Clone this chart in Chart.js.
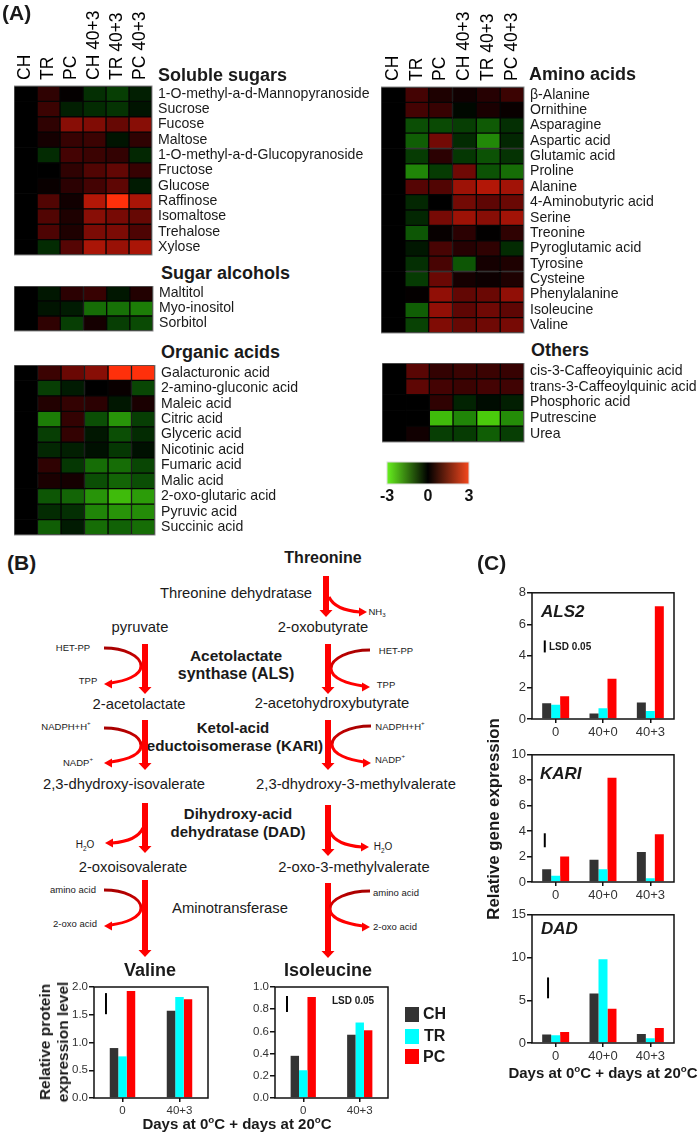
<!DOCTYPE html>
<html>
<head>
<meta charset="utf-8">
<style>
  html, body { margin: 0; padding: 0; background: #fff; }
  #page { position: relative; width: 700px; height: 1133px; overflow: hidden; font-family: "Liberation Sans", Arial, sans-serif; color: #1a1a1a; }
  #page canvas { position: absolute; }
  #page svg { position: absolute; left: 0; top: 0; z-index: 2; }
  .t { position: absolute; white-space: nowrap; transform: translate(-50%, -50%); }
  .l { position: absolute; white-space: nowrap; transform: translateY(-50%); }
  .r { position: absolute; white-space: nowrap; transform: translate(-50%, -50%) rotate(-90deg); font-weight: bold; text-align: center; }
  sup, sub { font-size: 65%; line-height: 0; }
</style>
</head>
<body>
<div id="page"></div>
<script src="https://cdn.jsdelivr.net/npm/chart.js@4/dist/chart.umd.js"></script>
<script>
// heatmap columns
const columns = ["CH", "TR", "PC", "CH 40+3", "TR 40+3", "PC 40+3"];

const sugarRows = ["1-O-methyl-a-d-Mannopyranoside", "Sucrose", "Fucose", "Maltose", "1-O-methyl-a-d-Glucopyranoside", "Fructose", "Glucose", "Raffinose", "Isomaltose", "Trehalose", "Xylose"];
const sugarValues = [
    [0, 0.55, 0.05, -0.6, -0.8, -0.4],
    [0, 0.7, -0.4, -0.55, -0.65, -0.25],
    [0, 0.55, 1.6, 1.5, 1.2, 1.6],
    [0, 0.25, 0.65, 0.7, -0.25, 0.55],
    [0, -0.55, 0.8, 0.7, 0.6, -0.5],
    [0, 0, 0.55, 0.95, 1.15, 0.65],
    [0, 0.1, 0.5, 0.8, 1.1, -0.35],
    [0, 0.95, 0.2, 2.1, 3, 2.0],
    [0, 0.95, 0.35, 1.6, 1.4, 1.2],
    [0, 0.9, 0.35, 1.45, 1.45, 0.9],
    [0, -0.55, 1.0, 2.0, 1.8, 2.0],
];

const alcoholRows = ["Maltitol", "Myo-inositol", "Sorbitol"];
const alcoholValues = [
    [0, -0.3, 0.5, 0.65, -0.3, 0.4],
    [0, -0.25, -0.35, -1.4, -1.45, -1.6],
    [0, 0.55, -0.8, 0.25, -0.8, -0.95],
];

const organicRows = ["Galacturonic acid", "2-amino-gluconic acid", "Maleic acid", "Citric acid", "Glyceric acid", "Nicotinic acid", "Fumaric acid", "Malic acid", "2-oxo-glutaric acid", "Pyruvic acid", "Succinic acid"];
const organicValues = [
    [0, 0.7, 1.25, 1.6, 3, 3],
    [0, -0.8, -0.35, 0, 0.1, -0.9],
    [0, 0.4, 0.6, 0.5, -0.3, 0.3],
    [0, -1.6, 0.6, -1, -1.9, -0.8],
    [0, -0.8, 0.6, -0.3, -1, -0.55],
    [0, -0.5, -0.4, -0.2, -0.7, -0.2],
    [0, 0.55, -0.7, -1.4, -1.4, -0.9],
    [0, 0.3, 0.25, -1.0, -1.3, -1],
    [0, -1.1, -1.3, -1.9, -2.4, -2],
    [0, -0.55, -0.6, -1.7, -1.9, -1.8],
    [0, -1.2, -0.35, -1.4, -1.25, -1.4],
];

const aminoRows = ["β-Alanine", "Ornithine", "Asparagine", "Aspartic acid", "Glutamic acid", "Proline", "Alanine", "4-Aminobutyric acid", "Serine", "Treonine", "Pyroglutamic acid", "Tyrosine", "Cysteine", "Phenylalanine", "Isoleucine", "Valine"];
const aminoValues = [
    [0, 0.8, 0.35, 0.2, 0.45, 0.7],
    [0, 0.8, 0.65, -0.1, 0.3, 0.1],
    [0, -1, -0.95, -0.8, -1.15, -0.6],
    [0, -1.2, 1.35, -0.55, -1.75, -0.5],
    [0, -0.75, 0.5, -0.7, -1.05, -0.65],
    [0, -1.7, -0.75, 1.3, -1.05, -1.4],
    [0, 1.0, 0.95, 1.85, 2.1, 1.9],
    [0, -0.5, 0, 1.35, 1.1, 1.25],
    [0, -0.5, 1.4, 1.85, 1.6, 1.9],
    [0, -1.1, 0.08, 0.5, 0.02, 0.55],
    [0, -0.3, 0.85, 0.45, 0.55, -0.55],
    [0, -0.6, 0.85, -1.1, 0.25, 0.35],
    [0, -0.75, 1.25, 0.25, 0.15, 0.35],
    [0, 0.05, 1.7, 1.15, 1.25, 1.7],
    [0, -1.2, 1.7, 1.1, 1.3, 1.1],
    [0, -0.85, 1.5, 1.2, 1.3, 1.4],
];

const otherRows = ["cis-3-Caffeoyiquinic acid", "trans-3-Caffeoylquinic acid", "Phosphoric acid", "Putrescine", "Urea"];
const otherValues = [
    [0, 1.05, 0.6, 0.7, 0.7, 0.65],
    [0, 1.1, 0.8, 0.7, 0.8, 0.75],
    [0, 0, 0.55, -0.45, -0.15, -0.4],
    [0, 0, -2.4, -1.7, -2.6, -1.8],
    [0, 0.2, -0.8, -0.75, -1.2, -0.8],
];

const scaleTicks = [-3, 0, 3];

// bar panels
const genotypes = ["CH", "TR", "PC"];
const genotypeColors = ["#333333", "#00ffff", "#ff0000"];

const proteinDays = ["0", "40+3"];
const valineCH = [0.9, 1.57];
const valineTR = [0.75, 1.82];
const valinePC = [1.93, 1.78];
const isoleucineCH = [0.38, 0.57];
const isoleucineTR = [0.25, 0.68];
const isoleucinePC = [0.91, 0.61];

const geneDays = ["0", "40+0", "40+3"];
const als2CH = [1.0, 0.35, 1.05];
const als2TR = [0.9, 0.68, 0.5];
const als2PC = [1.45, 2.55, 7.15];
const kariCH = [1.0, 1.75, 2.35];
const kariTR = [0.5, 1.0, 0.3];
const kariPC = [2.0, 8.2, 3.75];
const dadCH = [1.0, 5.8, 1.05];
const dadTR = [0.9, 9.8, 0.55];
const dadPC = [1.3, 4.0, 1.75];

const page = document.getElementById("page");
const FONT = '"Liberation Sans", Arial, sans-serif';

function addCanvas(left, top, width, height) {
    const c = document.createElement("canvas");
    c.width = width;
    c.height = height;
    c.style.left = left + "px";
    c.style.top = top + "px";
    page.appendChild(c);
    return c;
}

// -3 green .. 0 black .. 3 red
function heatColor(v) {
    const a = Math.abs(v);
    if (v >= 0) {
        return `rgb(${Math.round(85 * a)},${Math.round(5.3 * a * a)},${Math.round(3.5 * a)})`;
    }
    return `rgb(${Math.round(11 * a * a)},${Math.round(78 * a)},${Math.round(4.5 * a)})`;
}

Chart.register({
    id: "frame",
    afterDatasetsDraw(chart, args, opts) {
        if (!opts.color) return;
        const a = chart.chartArea;
        const ctx = chart.ctx;
        ctx.save();
        ctx.strokeStyle = opts.color;
        ctx.lineWidth = opts.width;
        ctx.strokeRect(a.left, a.top, a.right - a.left, a.bottom - a.top);
        ctx.restore();
    },
});

// short vertical LSD mark, given in y axis units
Chart.register({
    id: "lsdMark",
    afterDatasetsDraw(chart, args, opts) {
        if (opts.from === undefined) return;
        const a = chart.chartArea;
        const y = chart.scales.y;
        const x = a.left + opts.at * (a.right - a.left);
        const ctx = chart.ctx;
        ctx.save();
        ctx.strokeStyle = "#000";
        ctx.lineWidth = 2;
        ctx.beginPath();
        ctx.moveTo(x, y.getPixelForValue(opts.from));
        ctx.lineTo(x, y.getPixelForValue(opts.to));
        ctx.stroke();
        ctx.restore();
    },
});

function heatmap(rows, values, plot, showColumns) {
    const labelWidth = plot.canvasRight - plot.right;
    const canvas = addCanvas(plot.left, plot.canvasTop, plot.canvasRight - plot.left, plot.bottom - plot.canvasTop + 1);
    new Chart(canvas, {
        type: "bar",
        data: {
            labels: rows,
            datasets: columns.map((name, c) => ({
                label: name,
                data: rows.map(() => 1),
                backgroundColor: values.map((row) => heatColor(row[c])),
                borderColor: "#050505",
                borderWidth: c == 0 ? 0 : 1,
                borderSkipped: false,
                categoryPercentage: 1,
                barPercentage: 1,
            })),
        },
        options: {
            indexAxis: "y",
            responsive: false,
            animation: false,
            layout: { padding: { bottom: 1 } },
            plugins: {
                legend: { display: false },
                tooltip: { enabled: false },
                frame: { color: "#8a8a8a", width: 1 },
            },
            scales: {
                x: { stacked: true, min: 0, max: 6, display: false },
                y: {
                    stacked: true,
                    position: "right",
                    grid: { display: false, drawTicks: false },
                    border: { display: false },
                    afterFit: (s) => {
                        s.width = labelWidth;
                        s.paddingTop = 0;
                        s.paddingBottom = 0;
                    },
                    ticks: { autoSkip: false, padding: 6, color: "#1a1a1a", font: { family: FONT, size: 14.1 } },
                },
                x2: {
                    type: "category",
                    labels: columns,
                    offset: true,
                    position: "top",
                    display: showColumns,
                    grid: { display: false, drawTicks: false },
                    border: { display: false },
                    afterFit: (s) => {
                        s.height = plot.top - plot.canvasTop;
                        s.paddingLeft = 0;
                        s.paddingRight = 0;
                    },
                    // rotated top labels sit about one line left of their tick
                    ticks: { autoSkip: false, minRotation: 90, maxRotation: 90, padding: 6, labelOffset: 21, color: "#000", font: { family: FONT, size: 17.5 } },
                },
            },
        },
    });
}

heatmap(sugarRows, sugarValues, { left: 14, right: 152, top: 86, bottom: 255, canvasTop: 0, canvasRight: 380 }, true);
heatmap(alcoholRows, alcoholValues, { left: 14, right: 153, top: 286, bottom: 331, canvasTop: 286, canvasRight: 380 }, false);
heatmap(organicRows, organicValues, { left: 14, right: 155, top: 365, bottom: 535, canvasTop: 365, canvasRight: 380 }, false);
heatmap(aminoRows, aminoValues, { left: 381, right: 524, top: 87, bottom: 333, canvasTop: 0, canvasRight: 700 }, true);
heatmap(otherRows, otherValues, { left: 382, right: 524, top: 363, bottom: 442, canvasTop: 363, canvasRight: 700 }, false);

// colour key
new Chart(addCanvas(367, 458, 122, 50), {
    type: "bar",
    data: {
        labels: ["scale"],
        datasets: [{
            data: [[scaleTicks[0], scaleTicks[2]]],
            borderSkipped: false,
            categoryPercentage: 1,
            barPercentage: 1,
            backgroundColor: (ctx) => {
                const a = ctx.chart.chartArea;
                if (!a) return "#000";
                const g = ctx.chart.ctx.createLinearGradient(a.left, 0, a.right, 0);
                g.addColorStop(0, "#66f01e");
                g.addColorStop(0.5, "#000");
                g.addColorStop(1, "#f5481e");
                return g;
            },
        }],
    },
    options: {
        indexAxis: "y",
        responsive: false,
        animation: false,
        layout: { padding: { left: 20, right: 20, top: 4 } },
        plugins: { legend: { display: false }, tooltip: { enabled: false }, frame: { color: "#dcdcdc", width: 1 } },
        scales: {
            y: { display: false },
            x: {
                min: -3,
                max: 3,
                grid: { display: false, drawTicks: false },
                border: { display: false },
                afterFit: (s) => { s.height = 24; },
                ticks: { stepSize: 3, padding: 3, color: "#111", font: { family: FONT, size: 16, weight: "bold" } },
            },
        },
    },
});

function barPanel(plot, days, ch, tr, pc, yMax, step, groupShare, lsd, tickSize) {
    const leftRoom = 40, rightRoom = 6, topRoom = 8, bottomRoom = 24;
    const canvas = addCanvas(plot.left - leftRoom, plot.top - topRoom, plot.right - plot.left + leftRoom + rightRoom, plot.bottom - plot.top + topRoom + bottomRoom);
    new Chart(canvas, {
        type: "bar",
        data: {
            labels: days,
            datasets: [ch, tr, pc].map((d, i) => ({
                label: genotypes[i],
                data: d,
                backgroundColor: genotypeColors[i],
                categoryPercentage: groupShare,
                barPercentage: 1,
            })),
        },
        options: {
            responsive: false,
            animation: false,
            layout: { padding: { left: 0, right: rightRoom, top: topRoom, bottom: 0 } },
            plugins: {
                legend: { display: false },
                tooltip: { enabled: false },
                frame: { color: "#111", width: 1.5 },
                lsdMark: lsd,
            },
            scales: {
                x: {
                    grid: { offset: false, drawOnChartArea: false, tickLength: 4, color: "#111", lineWidth: 1.5 },
                    border: { display: false },
                    afterFit: (s) => { s.height = bottomRoom; },
                    ticks: { padding: 2, color: "#333", font: { family: FONT, size: tickSize } },
                },
                y: {
                    min: 0,
                    max: yMax,
                    grid: { drawOnChartArea: false, tickLength: 5, color: "#111", lineWidth: 1.5 },
                    border: { display: false },
                    afterFit: (s) => { s.width = leftRoom; },
                    ticks: { stepSize: step, padding: 1, color: "#333", font: { family: FONT, size: tickSize }, callback: (v) => (step < 1 ? v.toFixed(1) : v) },
                },
            },
        },
    });
}

barPanel({ left: 94, right: 208, top: 987, bottom: 1098 }, proteinDays, valineCH, valineTR, valinePC, 2, 0.5, 0.447, { at: 0.105, from: 1.51, to: 1.89 }, 11.5);
barPanel({ left: 275, right: 388, top: 987, bottom: 1098 }, proteinDays, isoleucineCH, isoleucineTR, isoleucinePC, 1, 0.2, 0.447, { at: 0.106, from: 0.775, to: 0.919 }, 11.5);
barPanel({ left: 532, right: 674, top: 592, bottom: 719 }, geneDays, als2CH, als2TR, als2PC, 8, 2, 0.57, { at: 0.09, from: 4.22, to: 4.98 }, 13);
barPanel({ left: 532, right: 674, top: 754, bottom: 882 }, geneDays, kariCH, kariTR, kariPC, 10, 2, 0.57, { at: 0.09, from: 2.73, to: 3.83 }, 13);
barPanel({ left: 532, right: 674, top: 914, bottom: 1043 }, geneDays, dadCH, dadTR, dadPC, 15, 5, 0.57, { at: 0.113, from: 5.23, to: 7.67 }, 13);

// text: html, x, y, size, bold
const centred = [
    ["Threonine", 323, 558, 16, 1],
    ["Threonine dehydratase", 236, 593, 14.8],
    ["pyruvate", 140, 627, 14.8],
    ["2-oxobutyrate", 323, 627, 14.8],
    ["Acetolactate", 236, 656, 15.5, 1],
    ["synthase (ALS)", 236, 674, 16, 1],
    ["2-acetolactate", 139, 704, 14.8],
    ["2-acetohydroxybutyrate", 332, 703, 14.8],
    ["Ketol-acid", 233, 727, 15, 1],
    ["reductoisomerase (KARI)", 232, 745, 15.2, 1],
    ["2,3-dhydroxy-isovalerate", 124, 784, 14.8],
    ["2,3-dhydroxy-3-methylvalerate", 356, 784, 14.8],
    ["Dihydroxy-acid", 238, 813, 15, 1],
    ["dehydratase (DAD)", 238, 831, 15, 1],
    ["2-oxoisovalerate", 133, 867, 14.8],
    ["2-oxo-3-methylvalerate", 354, 867, 14.8],
    ["Aminotransferase", 230, 908, 14.8],
    ["Valine", 150, 970, 18, 1],
    ["Isoleucine", 328, 970, 18, 1],
    ["HET-PP", 73, 647, 9.5],
    ["TPP", 88, 680, 9.5],
    ["NADPH+H<sup>+</sup>", 66, 726, 9.5],
    ["NADP<sup>+</sup>", 78, 762, 9.5],
    ["HET-PP", 396, 650, 9.5],
    ["TPP", 386, 684, 9.5],
    ["NADPH+H<sup>+</sup>", 400, 726, 9.5],
    ["NADP<sup>+</sup>", 390, 759, 9.5],
    ["NH<sub>3</sub>", 377, 611, 9.5],
    ["H<sub>2</sub>O", 85, 844, 10],
    ["H<sub>2</sub>O", 383, 846, 10],
    ["amino acid", 73, 889, 9.5],
    ["2-oxo acid", 75, 923, 9.5],
    ["amino acid", 396, 892, 9.5],
    ["2-oxo acid", 395, 926, 9.5],
    ["LSD 0.05", 353, 1000, 10, 1],
    ["Days at 0<sup>o</sup>C + days at 20<sup>o</sup>C", 237, 1123, 15, 1],
    ["Days at 0<sup>o</sup>C + days at 20<sup>o</sup>C", 603, 1072, 15, 1],
];
const leftAligned = [
    ["(A)", 2, 13, 21, 1],
    ["(B)", 7, 563, 21, 1],
    ["(C)", 477, 563, 21, 1],
    ["Soluble sugars", 158, 75, 18, 1],
    ["Sugar alcohols", 161, 273, 18, 1],
    ["Organic acids", 161, 352, 18, 1],
    ["Amino acids", 529, 74, 18, 1],
    ["Others", 531, 350, 18, 1],
    ["LSD 0.05", 549, 646, 10, 1],
    ["CH", 423, 1014, 16, 1],
    ["TR", 424, 1036, 16, 1],
    ["PC", 423, 1057, 16, 1],
];
const geneNames = [["ALS2", 541, 612], ["KARI", 540, 774], ["DAD", 541, 929]];

function addText(cls, html, x, y, size, bold) {
    const d = document.createElement("div");
    d.className = cls;
    d.innerHTML = html;
    d.style.left = x + "px";
    d.style.top = y + "px";
    d.style.fontSize = size + "px";
    if (bold) d.style.fontWeight = "bold";
    page.appendChild(d);
    return d;
}
centred.forEach((t) => addText("t", ...t));
leftAligned.forEach((t) => addText("l", ...t));
geneNames.forEach((g) => {
    addText("l", g[0], g[1], g[2], 17, 1).style.fontStyle = "italic";
});
addText("r", "Relative protein<br>expression level", 54, 1042, 15.5, 1).style.lineHeight = "18px";
addText("r", "Relative gene expression", 494, 819, 16.8, 1);

[1007, 1029, 1049].forEach((y, i) => {
    const s = document.createElement("div");
    s.style.cssText = `position:absolute;left:405px;top:${y}px;width:14px;height:15px;background:${genotypeColors[i]}`;
    page.appendChild(s);
});

// pathway arrows
const straightArrows = [
    [326, 576, 617], [145, 644, 694], [328, 644, 694], [145, 720, 770], [328, 720, 770],
    [145, 803, 853], [328, 805, 856], [145, 880, 957], [328, 883, 958],
];
// x of the open side, x of the bend, top y, bottom y
const bentArrows = [
    [104, 141, 648, 684], [370, 331, 650, 687],
    [104, 141, 728, 763], [371, 332, 726, 763],
    [104, 141, 890, 926], [370, 330, 891, 927],
];
// start, end of the short side arrows
const sideArrows = [
    [329, 597, 367, 612], [143, 828, 105, 843], [330, 832, 369, 847],
];

function head(x, y, dx, dy, len, half) {
    const px = -dy, py = dx;
    return `M${x} ${y}L${x - dx * len + px * half} ${y - dy * len + py * half}L${x - dx * len - px * half} ${y - dy * len - py * half}Z`;
}

let svg = `<svg width="700" height="1133"><defs><linearGradient id="fade" x1="0" y1="0" x2="0" y2="1"><stop offset="0" stop-color="#a80000"/><stop offset="0.4" stop-color="#d80000"/><stop offset="0.55" stop-color="#ff0000"/><stop offset="1" stop-color="#ff0000"/></linearGradient></defs>`;
straightArrows.forEach(([x, y0, y1]) => {
    svg += `<path d="M${x - 3} ${y0}H${x + 3}V${y1 - 6}H${x - 3}Z${head(x, y1, 0, 1, 7, 6.5)}" fill="#f00"/>`;
});
bentArrows.forEach(([a, b, y0, y1]) => {
    const m = (y0 + y1) / 2;
    const s = a < b ? 1 : -1;
    const c = a + (b - a) * 0.55;
    svg += `<path d="M${a} ${y0}C${c} ${y0} ${b} ${m - 10} ${b} ${m}C${b} ${m + 10} ${c} ${y1 - 3} ${a + s * 7} ${y1 - 1}" fill="none" stroke="url(#fade)" stroke-width="3"/>`;
    svg += `<path d="${head(a, y1, -s, 0, 8, 4.5)}" fill="#f00"/>`;
});
sideArrows.forEach(([x0, y0, x1, y1]) => {
    const s = x1 > x0 ? 1 : -1;
    svg += `<path d="M${x0} ${y0}Q${x0 + s * 6} ${y1 - 2} ${x1 - s * 7} ${y1}" fill="none" stroke="#f00" stroke-width="3"/>`;
    svg += `<path d="${head(x1, y1, s, 0, 8, 4.5)}" fill="#f00"/>`;
});
svg += "</svg>";
page.insertAdjacentHTML("beforeend", svg);
</script>
</body>
</html>
